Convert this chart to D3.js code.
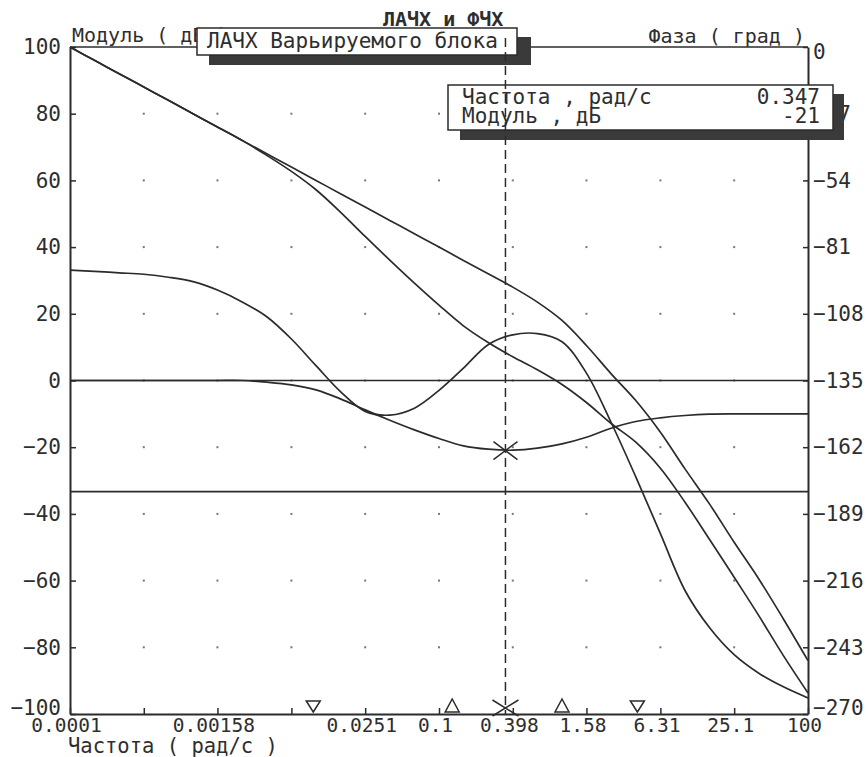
<!DOCTYPE html>
<html>
<head>
<meta charset="utf-8">
<script src="https://cdn.jsdelivr.net/npm/d3@7"></script>
<style>
  body { margin: 0; background: #fff; }
  text { font-family: 'DejaVu Sans Mono', 'Liberation Mono', monospace; fill: #2e2e2e; }
</style>
</head>
<body>
<div id="chart"></div>
<script>
// frequency grid, rad/s (0.2 decade steps)
const frequencies = [0.0001, 0.000158, 0.000251, 0.000398, 0.000631,
                     0.001, 0.00158, 0.00251, 0.00398, 0.00631,
                     0.01, 0.0158, 0.0251, 0.0398, 0.0631,
                     0.1, 0.158, 0.251, 0.398, 0.631,
                     1, 1.58, 2.51, 3.98, 6.31,
                     10, 15.8, 25.1, 39.8, 63.1, 100];
// ЛАЧХ исходной системы, дБ
const uncorrectedMag = [100, 96, 92, 88, 84, 80, 76, 72, 68, 64, 60, 56, 52, 48, 44,
                        40, 36, 32, 28, 23.5, 18, 10.5, 2, -6, -15.5,
                        -26.5, -37, -48.5, -59.5, -71.5, -84];
// ЛАЧХ скорректированной системы, дБ
const correctedMag = [100, 96, 92, 88, 84, 80, 76, 72, 67.5, 62.7, 57.2, 50.5, 43.2, 36.1, 29.2,
                      22.6, 16.4, 11.4, 7.1, 3.2, -1.2, -6.6, -12.9, -18.5, -26.3,
                      -36.5, -47.6, -59, -70.5, -82.5, -93.7];
// ЛАЧХ варьируемого блока, дБ
const blockMag = [0, 0, 0, 0, 0, 0, 0, 0, -0.5, -1.3, -2.8, -5.5, -8.8, -11.9, -14.8,
                  -17.4, -19.6, -20.6, -20.9, -20.3, -19, -17, -14.3, -12.3, -11.2,
                  -10.5, -10.1, -10, -10, -10, -10];
// ФЧХ скорректированной системы, град
const correctedPhase = [-90.3, -90.8, -91.4, -92, -93.2, -95, -98.4, -103.2, -109.2, -118.2,
                        -129, -139.5, -147.5, -149, -146.2, -139, -130, -120.5, -116.5, -116,
                        -119.3, -132, -152, -174, -197, -220, -235, -246, -253.5, -259, -263.5];

const xTicks = [0.0001, 0.000398, 0.00158, 0.00631, 0.0251, 0.1, 0.398, 1.58, 6.31, 25.1, 100];
const xTickLabels = ['0.0001', '', '0.00158', '', '0.0251', '0.1', '0.398', '1.58', '6.31', '25.1', '100'];
const magTicks = [100, 80, 60, 40, 20, 0, -20, -40, -60, -80, -100];
const phaseTicks = [0, -27, -54, -81, -108, -135, -162, -189, -216, -243, -270];

const cornerFreqs = [0.0095, 0.128, 1.0, 4.1];
const cornerTypes = ['down', 'up', 'up', 'down'];

const cursorFreq = 0.347;
const cursorMag = -21;
const refMag = 0;
const refPhase = -180;

const WIDTH = 868;
const HEIGHT = 757;
const PLOT = { LEFT: 70, RIGHT: 808, TOP: 47, BOTTOM: 714 };
const INK = '#2b2b2b';

var svg = d3.select('#chart').append('svg')
	.attr('width', WIDTH)
	.attr('height', HEIGHT);

var x = d3.scaleLog().domain([0.0001, 100]).range([PLOT.LEFT, PLOT.RIGHT]);
var y = d3.scaleLinear().domain([-100, 100]).range([PLOT.BOTTOM, PLOT.TOP]);
var yp = d3.scaleLinear().domain([-270, 0]).range([PLOT.BOTTOM, PLOT.TOP]);

// grid dots
var dots = svg.append('g');
xTicks.slice(1, -1).forEach(function (f) {
	magTicks.slice(1, -1).forEach(function (m) {
		dots.append('rect')
			.attr('x', x(f) - 1).attr('y', y(m) - 1)
			.attr('width', 2).attr('height', 2)
			.attr('fill', '#777');
	});
});

// axes
var xAxis = d3.axisBottom(x).tickValues(xTicks)
	.tickFormat(function (d, i) { return xTickLabels[i]; })
	.tickSizeInner(-6).tickSizeOuter(0).tickPadding(4);
var yAxis = d3.axisLeft(y).tickValues(magTicks).tickSizeInner(-6).tickSizeOuter(0).tickPadding(9);
var pAxis = d3.axisRight(yp).tickValues(phaseTicks).tickSizeInner(-5).tickSizeOuter(0).tickPadding(5);

svg.append('g').attr('class', 'x axis')
	.attr('transform', 'translate(0,' + PLOT.BOTTOM + ')').call(xAxis);
svg.append('g').attr('class', 'y axis')
	.attr('transform', 'translate(' + PLOT.LEFT + ',0)').call(yAxis);
svg.append('g').attr('class', 'p axis')
	.attr('transform', 'translate(' + PLOT.RIGHT + ',0)').call(pAxis);

svg.selectAll('.axis path').style('stroke', INK).style('stroke-width', 2);
svg.selectAll('.axis line').style('stroke', INK).style('stroke-width', 1.5);
svg.selectAll('.axis text').attr('fill', INK)
	.style('font-family', "'DejaVu Sans Mono', monospace");
svg.selectAll('.x.axis text').style('font-size', '19.5px').attr('dx', -4);
svg.selectAll('.y.axis text, .p.axis text').style('font-size', '21px');
// end labels are kept inside the frame height
svg.selectAll('.y.axis .tick text').filter(function (d) { return d === -100; }).attr('y', -6);
svg.selectAll('.p.axis .tick text').filter(function (d) { return d === -270; }).attr('y', -6);
svg.selectAll('.p.axis .tick text').filter(function (d) { return d === 0; }).attr('y', 5);

// top frame
svg.append('line')
	.attr('x1', PLOT.LEFT).attr('x2', PLOT.RIGHT)
	.attr('y1', PLOT.TOP).attr('y2', PLOT.TOP)
	.style('stroke', INK).style('stroke-width', 1.5);

// reference lines: 0 dB and -180 deg
svg.append('line')
	.attr('x1', PLOT.LEFT).attr('x2', PLOT.RIGHT)
	.attr('y1', y(refMag)).attr('y2', y(refMag))
	.style('stroke', INK).style('stroke-width', 1.6);
svg.append('line')
	.attr('x1', PLOT.LEFT).attr('x2', PLOT.RIGHT)
	.attr('y1', yp(refPhase)).attr('y2', yp(refPhase))
	.style('stroke', INK).style('stroke-width', 1.6);

// curves
function drawCurve (values, scale) {
	var line = d3.line()
		.x(function (d, i) { return x(frequencies[i]); })
		.y(function (d) { return scale(d); })
		.curve(d3.curveCatmullRom);
	svg.append('path')
		.attr('d', line(values))
		.attr('fill', 'none')
		.style('stroke', INK)
		.style('stroke-width', 1.7);
}
drawCurve(uncorrectedMag, y);
drawCurve(correctedMag, y);
drawCurve(blockMag, y);
drawCurve(correctedPhase, yp);

// corner frequency markers
cornerFreqs.forEach(function (f, i) {
	var cx = x(f);
	var pts = cornerTypes[i] === 'down'
		? [[cx - 7, PLOT.BOTTOM - 13], [cx + 7, PLOT.BOTTOM - 13], [cx, PLOT.BOTTOM - 2]]
		: [[cx - 7, PLOT.BOTTOM - 2], [cx + 7, PLOT.BOTTOM - 2], [cx, PLOT.BOTTOM - 15]];
	svg.append('polygon')
		.attr('points', pts.map(function (p) { return p.join(','); }).join(' '))
		.attr('fill', 'none').style('stroke', INK).style('stroke-width', 1.5);
});

// crosses
function drawCross (cx, cy, w, h) {
	svg.append('path')
		.attr('d', 'M' + (cx - w) + ',' + (cy - h) + 'L' + (cx + w) + ',' + (cy + h) +
			'M' + (cx - w) + ',' + (cy + h) + 'L' + (cx + w) + ',' + (cy - h))
		.style('stroke', INK).style('stroke-width', 1.5);
}
drawCross(x(cursorFreq), y(cursorMag), 12, 9);
drawCross(x(cursorFreq), PLOT.BOTTOM - 6, 13, 8);

// titles
var title = svg.append('text')
	.attr('x', 383).attr('y', 26)
	.style('font-size', '20px').style('font-weight', 'bold')
	.text('ЛАЧХ и ФЧХ');
var tw = title.node().getComputedTextLength();
svg.append('line')
	.attr('x1', 383).attr('x2', 383 + tw).attr('y1', 29).attr('y2', 29)
	.style('stroke', INK).style('stroke-width', 1.5);

svg.append('text')
	.attr('x', 72).attr('y', 42)
	.style('font-size', '20px')
	.text('Модуль ( дБ )');
svg.append('text')
	.attr('x', 805).attr('y', 43)
	.attr('text-anchor', 'end')
	.style('font-size', '20px')
	.text('Фаза ( град )');
svg.append('text')
	.attr('x', 68).attr('y', 753)
	.style('font-size', '20.5px')
	.text('Частота ( рад/с )');

// popup boxes with shadow
function drawBox (bx, by, bw, bh, sw) {
	svg.append('rect')
		.attr('x', bx + 12).attr('y', by + 9)
		.attr('width', sw).attr('height', bh + 1)
		.attr('fill', '#3a3a3a');
	svg.append('rect')
		.attr('x', bx).attr('y', by)
		.attr('width', bw).attr('height', bh)
		.attr('fill', '#fff')
		.style('stroke', INK).style('stroke-width', 1.5);
}
drawBox(197, 28, 320, 27, 322);
svg.append('text')
	.attr('x', 207).attr('y', 48)
	.style('font-size', '21px')
	.text('ЛАЧХ Варьируемого блока');

drawBox(448, 85, 385, 45, 384);
svg.append('text')
	.attr('x', 462).attr('y', 104)
	.style('font-size', '21px')
	.text('Частота , рад/с');
svg.append('text')
	.attr('x', 820).attr('y', 104)
	.attr('text-anchor', 'end')
	.style('font-size', '21px')
	.text(cursorFreq.toFixed(3));
svg.append('text')
	.attr('x', 462).attr('y', 123)
	.style('font-size', '21px')
	.text('Модуль , дБ');
svg.append('text')
	.attr('x', 820).attr('y', 123)
	.attr('text-anchor', 'end')
	.style('font-size', '21px')
	.text(String(cursorMag));

// cursor line
svg.append('line')
	.attr('x1', x(cursorFreq)).attr('x2', x(cursorFreq))
	.attr('y1', 38).attr('y2', PLOT.BOTTOM)
	.style('stroke', INK).style('stroke-width', 1.5)
	.style('stroke-dasharray', '9,5');
</script>
</body>
</html>
